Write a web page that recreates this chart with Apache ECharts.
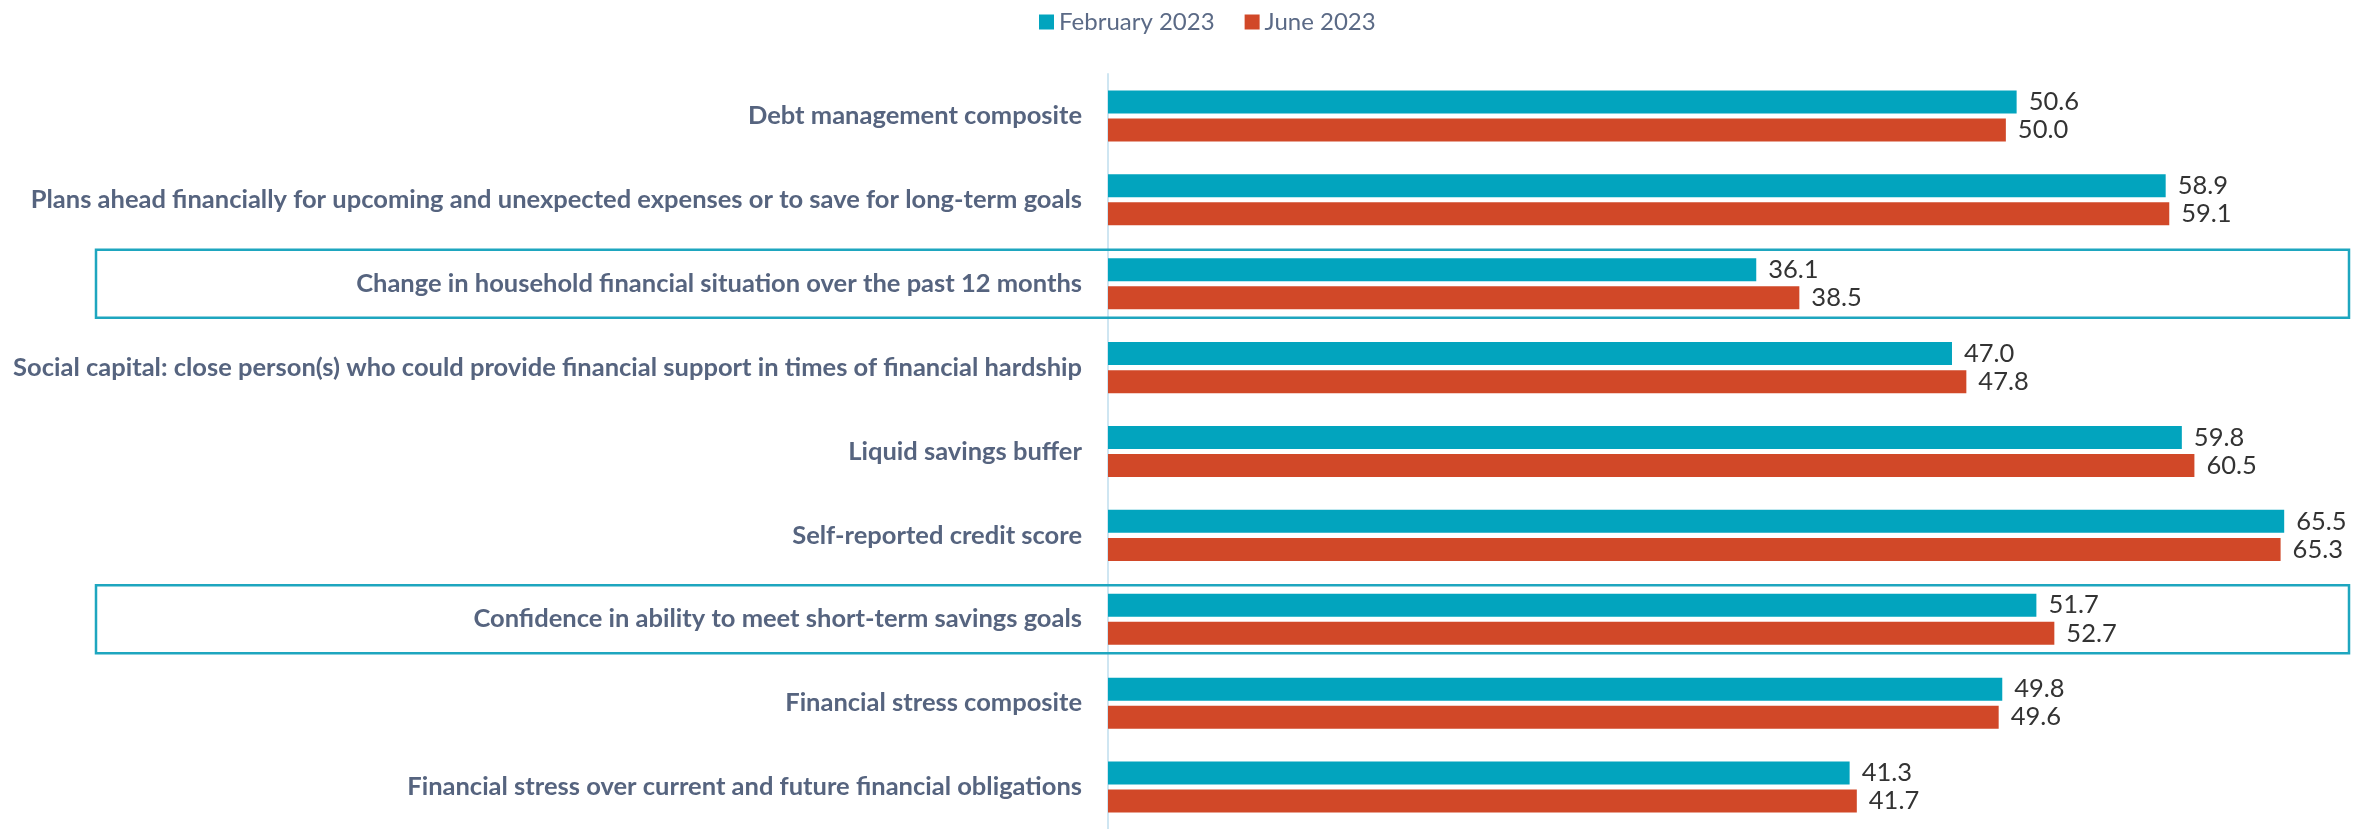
<!DOCTYPE html>
<html><head><meta charset="utf-8">
<script src="https://cdn.jsdelivr.net/npm/echarts@6/dist/echarts.min.js"></script>
<style>html,body{margin:0;padding:0;background:#fff}#c{width:2369px;height:829px}</style>
</head><body><div id="c"></div>
<script>
const categories = [
  "Debt management composite",
  "Plans ahead financially for upcoming and unexpected expenses or to save for long-term goals",
  "Change in household financial situation over the past 12 months",
  "Social capital: close person(s) who could provide financial support in times of financial hardship",
  "Liquid savings buffer",
  "Self-reported credit score",
  "Confidence in ability to meet short-term savings goals",
  "Financial stress composite",
  "Financial stress over current and future financial obligations"
];
const feb2023 = [50.6, 58.9, 36.1, 47.0, 59.8, 65.5, 51.7, 49.8, 41.3];
const jun2023 = [50.0, 59.1, 38.5, 47.8, 60.5, 65.3, 52.7, 49.6, 41.7];
const highlighted = [
  "Change in household financial situation over the past 12 months",
  "Confidence in ability to meet short-term savings goals"
];

const chart = echarts.init(document.getElementById('c'));
const valLabel = {show:true, position:'right', distance:12, color:'#333', fontFamily:'Lato', fontSize:25.5,
  formatter: p => p.value.toFixed(1)};
chart.setOption({
  animation:false,
  legend:{top:5, left:1034, itemWidth:15, itemHeight:15, itemGap:30, icon:'rect',
    textStyle:{color:'#5b6a86', fontFamily:'Lato', fontSize:24}},
  grid:{left:1108, right:4, top:74, bottom:0, containLabel:false},
  xAxis:{type:'value', min:0, max:70, show:false},
  yAxis:{type:'category', inverse:true, data:categories,
    axisLine:{show:true, lineStyle:{color:'#cfe6f2', width:2}}, axisTick:{show:false},
    axisLabel:{color:'#56647f', fontFamily:'Lato', fontWeight:'bold', fontSize:25.5, margin:26}},
  series:[
    {name:'February 2023', type:'bar', data:feb2023, barWidth:23, barGap:'22%', itemStyle:{color:'#02a4be'}, label:valLabel},
    {name:'June 2023', type:'bar', data:jun2023, barWidth:23, itemStyle:{color:'#d14828'}, label:valLabel}
  ]
});
const boxes = highlighted.map(c => {
  const y = chart.convertToPixel({yAxisIndex:0}, c);
  return {type:'rect', shape:{x:96, y:y-34, width:2253, height:68},
    style:{fill:null, stroke:'#1ea6bf', lineWidth:2.5}, z:100};
});
chart.setOption({graphic:boxes});
</script></body></html>
